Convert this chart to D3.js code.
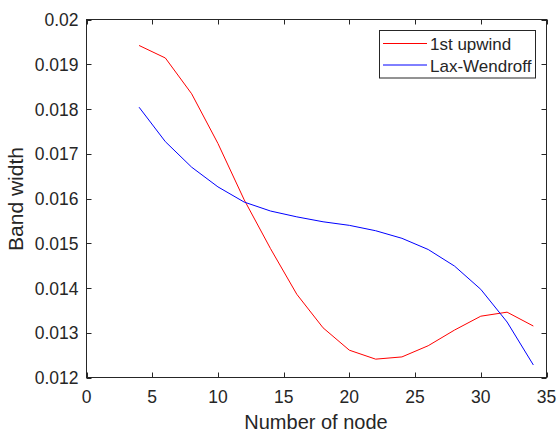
<!DOCTYPE html>
<html><head><meta charset="utf-8">
<script src="https://cdn.jsdelivr.net/npm/d3@7"></script>
<style>body{margin:0;background:#fff}svg{display:block}text{font-family:Arial,"Liberation Sans",sans-serif;fill:#262626}</style>
</head><body>
<svg id="c" width="559" height="432"></svg>
<script>
const nodes = [4,6,8,10,12,14,16,18,20,22,24,26,28,30,32,34];
const upwind = [0.01942,0.01914,0.01834,0.01723,0.01597,0.01488,0.01386,0.01311,0.01261,0.01241,0.01246,0.01271,0.01306,0.01337,0.01346,0.01315];
const laxWendroff = [0.01804,0.01727,0.01670,0.01626,0.01592,0.01572,0.01559,0.01548,0.01540,0.01528,0.01511,0.01486,0.01449,0.01397,0.01324,0.01228];
const xTicks = [0,5,10,15,20,25,30,35];
const yTicks = [0.012,0.013,0.014,0.015,0.016,0.017,0.018,0.019,0.02];
const seriesNames = ["1st upwind","Lax-Wendroff"];
const colors = ["#ff0000","#0000ff"];

const svg = d3.select("#c");
const L=86.5, R=546.5, T=19.5, B=377.5;
const x = d3.scaleLinear().domain([0,35]).range([L,R]);
const y = d3.scaleLinear().domain([0.012,0.02]).range([B,T]);
const ax = "#262626";

svg.append("rect").attr("x",L).attr("y",T).attr("width",R-L).attr("height",B-T)
  .attr("fill","none").attr("stroke",ax).attr("stroke-width",1);

const tl=5;
xTicks.forEach(t=>{
  const px=Math.round(x(t))+0.5;
  svg.append("line").attr("x1",px).attr("x2",px).attr("y1",B).attr("y2",B-tl).attr("stroke",ax);
  svg.append("line").attr("x1",px).attr("x2",px).attr("y1",T).attr("y2",T+tl).attr("stroke",ax);
  svg.append("text").attr("x",x(t)).attr("y",403).attr("text-anchor","middle").attr("font-size",17.5).text(t);
});
yTicks.forEach(t=>{
  const py=Math.round(y(t))+0.5;
  svg.append("line").attr("x1",L).attr("x2",L+tl).attr("y1",py).attr("y2",py).attr("stroke",ax);
  svg.append("line").attr("x1",R).attr("x2",R-tl).attr("y1",py).attr("y2",py).attr("stroke",ax);
  svg.append("text").attr("x",L-8).attr("y",y(t)+6.5).attr("text-anchor","end").attr("font-size",17.5).text(d3.format("~g")(t));
});

svg.append("text").attr("x",316).attr("y",429).attr("text-anchor","middle").attr("font-size",20).text("Number of node");
svg.append("text").attr("transform",`translate(23,199) rotate(-90)`).attr("text-anchor","middle").attr("font-size",21).text("Band width");

const line = d3.line().x(d=>x(d[0])).y(d=>y(d[1]));
[upwind,laxWendroff].forEach((s,i)=>{
  svg.append("path").datum(nodes.map((n,j)=>[n,s[j]])).attr("d",line)
    .attr("fill","none").attr("stroke",colors[i]).attr("stroke-width",1);
});

const lg = svg.append("g");
lg.append("rect").attr("x",379.5).attr("y",30.5).attr("width",156).attr("height",47.5).attr("fill","#fff").attr("stroke",ax);
seriesNames.forEach((n,i)=>{
  const yy=43.5+i*21.5;
  lg.append("line").attr("x1",383).attr("x2",427).attr("y1",yy).attr("y2",yy).attr("stroke",colors[i]);
  lg.append("text").attr("x",430).attr("y",yy+6.5).attr("font-size",17).text(n);
});
</script>
</body></html>
